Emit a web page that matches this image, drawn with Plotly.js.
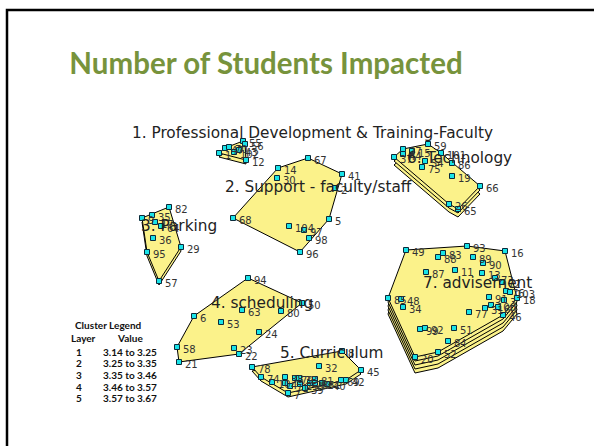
<!DOCTYPE html>
<html><head><meta charset="utf-8">
<script src="https://cdn.plot.ly/plotly-3.0.1.min.js"></script>
<style>html,body{margin:0;padding:0;background:#fff;}#chart{width:594px;height:446px;}</style>
</head><body><div id="chart"></div>
<script>
// ---- data: statement positions on the concept map (map units) ----
const clusterNames = ["1. Professional Development & Training-Faculty","2. Support - faculty/staff","3. Parking","4. scheduling","5. Curriculum","6. Technology","7. advisement"];
const clusterLayers = [2,1,2,1,2,3,5];
const clusterLabelX = [312,318,179,262,331,459,477];
const clusterLabelY = [133,187,226,303,353,158,283];

const c1X = [219,225,229,234,239,243,245,246];
const c1Y = [153,148,147,152,150,141,144,160];
const c1Id = ["1","47","70","102","43","55","56","12"];

const c2X = [308,278,277,342,335,329,289,304,309,300,233];
const c2Y = [158,168,178,174,188,219,226,230,238,252,218];
const c2Id = ["67","14","30","41","2","5","104","97","98","96","68"];

const c3X = [169,142,152,155,161,153,181,147,159];
const c3Y = [207,218,215,222,226,238,247,252,281];
const c3Id = ["82","9","35","17","64","36","29","95","57"];

const c4X = [248,302,281,242,194,221,259,234,239,177,179];
const c4Y = [278,303,311,310,316,322,332,348,354,347,362];
const c4Id = ["94","50","80","63","6","53","24","23","22","58","21"];

const c5X = [342,252,319,361,261,272,285,285,290,295,299,300,305,310,315,315,322,327,341,346,288];
const c5Y = [351,367,366,370,377,382,377,383,386,378,378,384,388,383,379,383,383,384,380,380,393];
const c5Id = ["8","78","32","45","74","10","38","4","71","79","33","25","39","28","81","62","61","40","69","42","7"];

const c6X = [428,403,403,394,412,441,452,425,422,452,480,449,458];
const c6Y = [144,149,154,157,151,153,163,161,167,176,186,204,209];
const c6Id = ["59","27","44","37","15","101","86","54","75","19","66","26","65"];

const c7X = [406,467,505,443,438,473,483,426,455,482,495,502,506,510,517,489,504,388,401,403,469,485,491,498,503,420,425,454,448,438,415];
const c7Y = [250,246,251,253,257,257,263,272,270,273,278,282,291,292,298,297,300,298,299,307,312,308,305,307,315,329,328,328,341,352,357];
const c7Id = ["49","93","16","83","88","89","90","87","11","13","73","72","76","103","18","91","3","85","48","34","77","31","100","60","46","99","92","51","84","52","20"];

const legendLayer = ["1","2","3","4","5"];
const legendRange = ["3.14 to 3.25","3.25 to 3.35","3.35 to 3.46","3.46 to 3.57","3.57 to 3.67"];

// ---- build ----
const clusters = [[c1X,c1Y,c1Id],[c2X,c2Y,c2Id],[c3X,c3Y,c3Id],[c4X,c4Y,c4Id],[c5X,c5Y,c5Id],[c6X,c6Y,c6Id],[c7X,c7Y,c7Id]];

function hull(xs, ys){
  const pts = xs.map((x,i)=>[x,ys[i]]).sort((a,b)=>a[0]-b[0]||a[1]-b[1]);
  const cross=(o,a,b)=>(a[0]-o[0])*(b[1]-o[1])-(a[1]-o[1])*(b[0]-o[0]);
  const lo=[],up=[];
  for(const p of pts){while(lo.length>=2&&cross(lo[lo.length-2],lo[lo.length-1],p)<=0)lo.pop();lo.push(p);}
  for(let i=pts.length-1;i>=0;i--){const p=pts[i];while(up.length>=2&&cross(up[up.length-2],up[up.length-1],p)<=0)up.pop();up.push(p);}
  up.pop();lo.pop();
  const h=lo.concat(up); h.push(h[0]); return h;
}

const LAYER_STEP = 4;
const traces = [];
clusters.forEach((c,ci)=>{
  const h = hull(c[0],c[1]);
  for(let L=clusterLayers[ci]-1; L>=0; L--){
    traces.push({type:'scatter',mode:'lines',x:h.map(p=>p[0]),y:h.map(p=>p[1]+L*LAYER_STEP),
      fill:'toself',fillcolor:'#fbf28a',line:{color:'#000',width:1},hoverinfo:'skip',showlegend:false});
  }
});
clusters.forEach((c)=>{
  traces.push({type:'scatter',mode:'markers',x:c[0],y:c[1],
    marker:{symbol:'square',size:5,color:'#19e3e8',line:{color:'#0b2a3a',width:1}},hoverinfo:'skip',showlegend:false});
});

const ann = [];
clusters.forEach((c)=>{
  c[0].forEach((x,i)=>{
    ann.push({x:x,y:c[1][i],xref:'x',yref:'y',text:c[2][i],showarrow:false,xanchor:'left',yanchor:'middle',
      xshift:4,yshift:-2,font:{family:'DejaVu Sans',size:10,color:'#333'}});
  });
});
clusterNames.forEach((n,i)=>{
  ann.push({x:clusterLabelX[i],y:clusterLabelY[i],xref:'x',yref:'y',text:n,showarrow:false,xanchor:'center',yanchor:'middle',
    font:{family:'DejaVu Sans',size:15.3,color:'#222'}});
});
const LF = {family:'Lato',size:10,color:'#111'};
ann.push({x:108,y:325,xref:'x',yref:'y',text:'<b>Cluster Legend</b>',showarrow:false,font:LF});
ann.push({x:83,y:338,xref:'x',yref:'y',text:'<b>Layer</b>',showarrow:false,font:LF});
ann.push({x:130,y:338,xref:'x',yref:'y',text:'<b>Value</b>',showarrow:false,font:LF});
const legendRowY = [352,363,375,387,398];
legendLayer.forEach((l,i)=>{
  ann.push({x:79,y:legendRowY[i],xref:'x',yref:'y',text:'<b>'+l+'</b>',showarrow:false,font:LF});
  ann.push({x:130,y:legendRowY[i],xref:'x',yref:'y',text:'<b>'+legendRange[i]+'</b>',showarrow:false,font:LF});
});

const layout = {
  width:594,height:446,margin:{l:0,r:0,t:0,b:0},paper_bgcolor:'#fff',plot_bgcolor:'#fff',
  title:{text:'<b>Number of Students Impacted</b>',font:{family:'Lato',size:29.5,color:'#77933C'},
    x:266/594,xanchor:'center',xref:'container',y:1-64/446,yanchor:'middle',yref:'container'},
  xaxis:{range:[0,594],visible:false,fixedrange:true},
  yaxis:{range:[446,0],visible:false,fixedrange:true},
  showlegend:false,
  annotations:ann,
  shapes:[{type:'rect',xref:'paper',yref:'paper',x0:7/594,x1:1.05,y0:-0.05,y1:1-10/446,line:{color:'#000',width:2.5},fillcolor:'rgba(0,0,0,0)'}]
};
Plotly.newPlot('chart',traces,layout,{staticPlot:true,displayModeBar:false});
</script></body></html>
